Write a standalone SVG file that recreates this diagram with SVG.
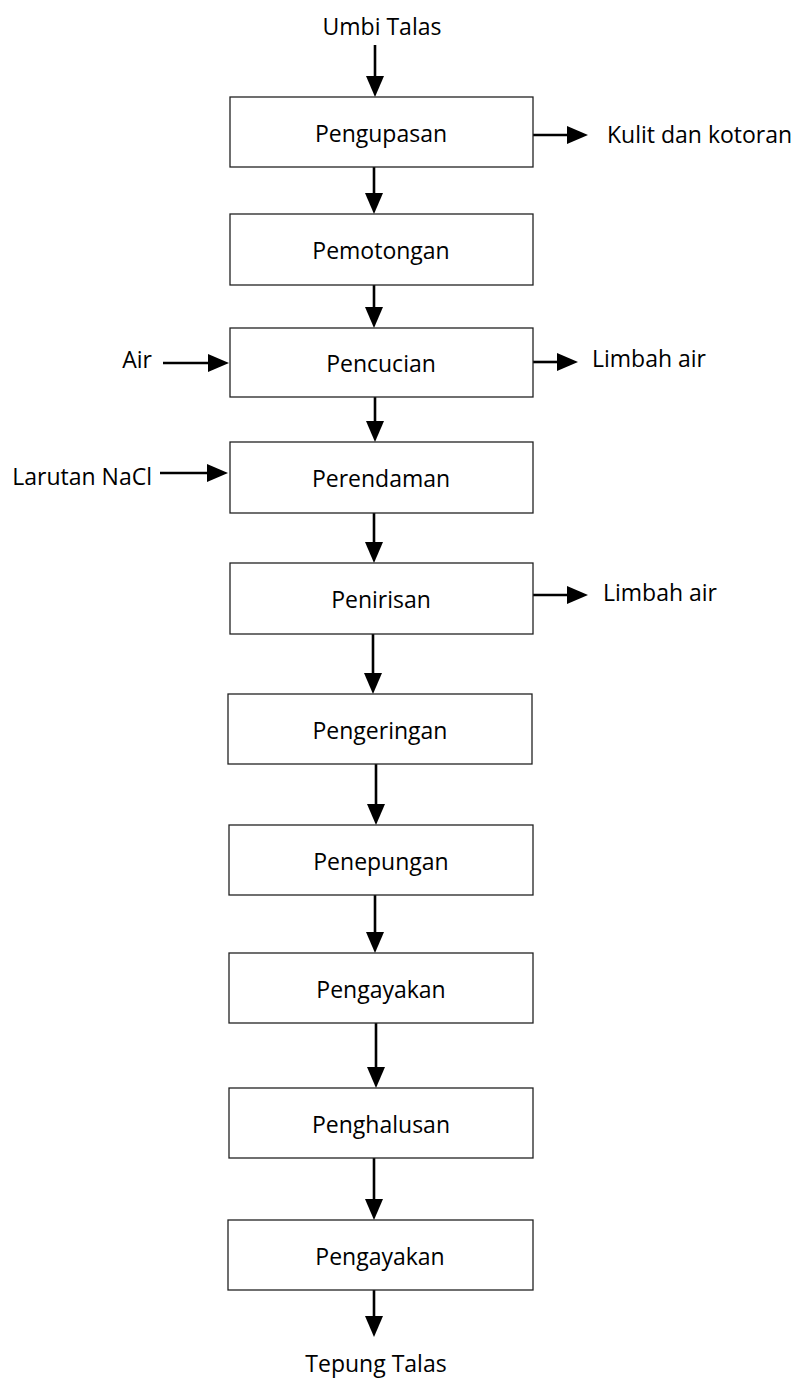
<svg xmlns="http://www.w3.org/2000/svg" width="799" height="1382" viewBox="0 0 799 1382">
<style>
  .box { fill: #fff; stroke: #222; stroke-width: 1.3; }
  .lbl { font-family: "Open Sans", "Noto Sans", sans-serif; font-size: 23px; fill: #000; }
  .mid { text-anchor: middle; }
  .end { text-anchor: end; }
  .con { stroke: #000; stroke-width: 2.6; fill: none; marker-end: url(#ah); }
</style>
<defs>
  <marker id="ah" markerUnits="userSpaceOnUse" markerWidth="22" markerHeight="19" refX="0" refY="9" orient="auto" overflow="visible">
    <path d="M0,0 L21,9 L0,18 Z" fill="#000"/>
  </marker>
</defs>
<rect width="799" height="1382" fill="#fff"/>

<g id="connectors">
  <line class="con" x1="375" y1="45" x2="375" y2="76"/>
  <line class="con" x1="374" y1="167" x2="374" y2="193"/>
  <line class="con" x1="374" y1="285" x2="374" y2="307"/>
  <line class="con" x1="375" y1="397" x2="375" y2="421"/>
  <line class="con" x1="374" y1="513" x2="374" y2="542"/>
  <line class="con" x1="373" y1="634" x2="373" y2="673"/>
  <line class="con" x1="376" y1="764" x2="376" y2="804"/>
  <line class="con" x1="375" y1="895" x2="375" y2="932"/>
  <line class="con" x1="376" y1="1023" x2="376" y2="1067"/>
  <line class="con" x1="374" y1="1158" x2="374" y2="1199"/>
  <line class="con" x1="374" y1="1290" x2="374" y2="1316"/>
  <line class="con" x1="533" y1="135" x2="567" y2="135"/>
  <line class="con" x1="163" y1="363" x2="208" y2="363"/>
  <line class="con" x1="533" y1="362" x2="557" y2="362"/>
  <line class="con" x1="160" y1="473" x2="207" y2="473"/>
  <line class="con" x1="533" y1="595" x2="567" y2="595"/>
</g>

<g id="n-umbi"><text class="lbl mid" x="382" y="35">Umbi Talas</text></g>
<g id="n-pengupasan"><rect class="box" x="230" y="97" width="303" height="70"/><text class="lbl mid" x="381" y="141.5">Pengupasan</text></g>
<g id="n-kulit"><text class="lbl" x="607" y="143">Kulit dan kotoran</text></g>
<g id="n-pemotongan"><rect class="box" x="230" y="214" width="303" height="71"/><text class="lbl mid" x="381" y="259">Pemotongan</text></g>
<g id="n-air"><text class="lbl end" x="152" y="368">Air</text></g>
<g id="n-pencucian"><rect class="box" x="230" y="328" width="303" height="69"/><text class="lbl mid" x="381" y="372">Pencucian</text></g>
<g id="n-limbah1"><text class="lbl" x="592" y="367">Limbah air</text></g>
<g id="n-nacl"><text class="lbl end" x="152" y="485">Larutan NaCl</text></g>
<g id="n-perendaman"><rect class="box" x="230" y="442" width="303" height="71"/><text class="lbl mid" x="381" y="487">Perendaman</text></g>
<g id="n-penirisan"><rect class="box" x="230" y="563" width="303" height="71"/><text class="lbl mid" x="381" y="608">Penirisan</text></g>
<g id="n-limbah2"><text class="lbl" x="603" y="601">Limbah air</text></g>
<g id="n-pengeringan"><rect class="box" x="228" y="694" width="304" height="70"/><text class="lbl mid" x="380" y="738.5">Pengeringan</text></g>
<g id="n-penepungan"><rect class="box" x="229" y="825" width="304" height="70"/><text class="lbl mid" x="381" y="869.5">Penepungan</text></g>
<g id="n-pengayakan1"><rect class="box" x="229" y="953" width="304" height="70"/><text class="lbl mid" x="381" y="997.5">Pengayakan</text></g>
<g id="n-penghalusan"><rect class="box" x="229" y="1088" width="304" height="70"/><text class="lbl mid" x="381" y="1132.5">Penghalusan</text></g>
<g id="n-pengayakan2"><rect class="box" x="228" y="1220" width="305" height="70"/><text class="lbl mid" x="380" y="1264.5">Pengayakan</text></g>
<g id="n-tepung"><text class="lbl mid" x="376" y="1372">Tepung Talas</text></g>
</svg>
